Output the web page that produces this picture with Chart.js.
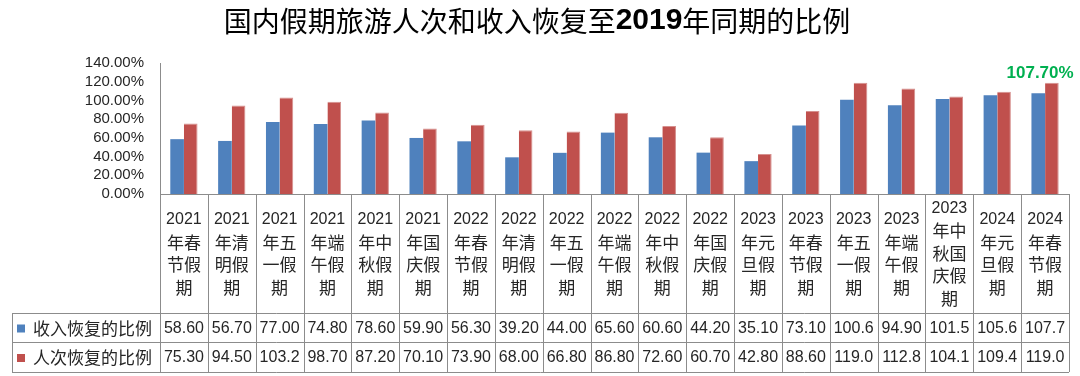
<!DOCTYPE html>
<html>
<head>
<meta charset="utf-8">
<script src="https://cdn.jsdelivr.net/npm/chart.js@4"></script>
<style>
  html, body { margin: 0; padding: 0; background: #fff; }
  #wrap { width: 1080px; height: 376px; position: relative; }
</style>
</head>
<body>
<div id="wrap"><canvas id="holidayChart"></canvas></div>
<script>
// Holiday names (header row of the data table)
const categories = [
    '2021年春节假期', '2021年清明假期', '2021年五一假期', '2021年端午假期', '2021年中秋假期',
    '2021年国庆假期', '2022年春节假期', '2022年清明假期', '2022年五一假期', '2022年端午假期',
    '2022年中秋假期', '2022年国庆假期', '2023年元旦假期', '2023年春节假期', '2023年五一假期',
    '2023年端午假期', '2023年中秋国庆假期', '2024年元旦假期', '2024年春节假期'
];
const seriesNames = ['收入恢复的比例', '人次恢复的比例'];
const revenueRatio = [58.6, 56.7, 77.0, 74.8, 78.6, 59.9, 56.3, 39.2, 44.0, 65.6, 60.6, 44.2, 35.1, 73.1, 100.6, 94.9, 101.5, 105.6, 107.7];
const tripsRatio = [75.3, 94.5, 103.2, 98.7, 87.2, 70.1, 73.9, 68.0, 66.8, 86.8, 72.6, 60.7, 42.8, 88.6, 119.0, 112.8, 104.1, 109.4, 119.0];
const yTicks = [0, 20, 40, 60, 80, 100, 120, 140];
const calloutText = '107.70%';

const BLUE = '#4F81BD';
const RED = '#C0504D';
const LINE = '#8C8C8C';
const TEXT = '#262626';
const CJK = '"Noto Sans CJK SC", sans-serif';
const LATIN = '"Liberation Sans", "Noto Sans CJK SC", sans-serif';

// Excel-like number format in the table cells
function cellText(v) {
    return v >= 100 ? v.toFixed(1) : v.toFixed(2);
}

// Split a holiday name into the wrapped lines of its header cell
function wrapName(name) {
    const lines = [name.slice(0, 4)];
    for (let i = 4; i < name.length; i += 2) lines.push(name.slice(i, i + 2));
    return lines;
}

// Title with bold year
const titlePlugin = {
    id: 'mixedTitle',
    afterDraw(chart) {
        const ctx = chart.ctx;
        const parts = [
            { t: '国内假期旅游人次和收入恢复至', f: `28px ${CJK}` },
            { t: '2019', f: `bold 30px ${LATIN}` },
            { t: '年同期的比例', f: `28px ${CJK}` }
        ];
        ctx.save();
        ctx.fillStyle = '#000';
        ctx.textBaseline = 'middle';
        let total = 0;
        parts.forEach(p => { ctx.font = p.f; p.w = ctx.measureText(p.t).width; total += p.w; });
        let x = 537 - total / 2;
        parts.forEach(p => {
            ctx.font = p.f;
            ctx.textAlign = 'left';
            ctx.fillText(p.t, x, 21);
            x += p.w;
        });
        ctx.restore();
    }
};

// Data table under the plot, aligned to the category scale
const tablePlugin = {
    id: 'dataTable',
    afterDraw(chart) {
        const ctx = chart.ctx;
        const xs = chart.scales.x;
        const n = categories.length;
        const left = xs.left, right = xs.right;
        const w = (right - left) / n;
        const top = chart.chartArea.bottom;
        const headBottom = 313, row1Bottom = 342, row2Bottom = 372;
        const legendLeft = 12;

        ctx.save();
        ctx.strokeStyle = LINE;
        ctx.lineWidth = 1;
        ctx.beginPath();
        for (let i = 0; i <= n; i++) {
            const x = Math.round(left + i * w) + 0.5;
            ctx.moveTo(x, top);
            ctx.lineTo(x, row2Bottom);
        }
        [headBottom, row1Bottom, row2Bottom].forEach(y => {
            ctx.moveTo(legendLeft, y + 0.5);
            ctx.lineTo(right, y + 0.5);
        });
        ctx.moveTo(legendLeft + 0.5, headBottom);
        ctx.lineTo(legendLeft + 0.5, row2Bottom);
        ctx.stroke();

        ctx.fillStyle = TEXT;
        ctx.textAlign = 'center';
        ctx.textBaseline = 'middle';

        // header cells
        categories.forEach((name, i) => {
            const cx = xs.getPixelForValue(i);
            const lines = wrapName(name);
            const lh = 22.5;
            const y0 = (top + headBottom) / 2 - (lines.length - 1) * lh / 2;
            lines.forEach((ln, j) => {
                ctx.font = j === 0 ? `16px ${LATIN}` : `17px ${CJK}`;
                ctx.fillText(ln, cx, y0 + j * lh);
            });
        });

        // value rows
        const rows = [
            { vals: revenueRatio, color: BLUE, y0: headBottom, y1: row1Bottom },
            { vals: tripsRatio, color: RED, y0: row1Bottom, y1: row2Bottom }
        ];
        rows.forEach((r, k) => {
            const cy = (r.y0 + r.y1) / 2 + 1;
            ctx.font = `16px ${LATIN}`;
            ctx.textAlign = 'center';
            ctx.fillStyle = TEXT;
            r.vals.forEach((v, i) => ctx.fillText(cellText(v), xs.getPixelForValue(i), cy));
            ctx.fillStyle = r.color;
            ctx.fillRect(17, cy - 4, 8, 8);
            ctx.fillStyle = TEXT;
            ctx.font = `17px ${CJK}`;
            ctx.textAlign = 'left';
            ctx.fillText(seriesNames[k], 33, cy);
        });
        ctx.restore();
    }
};

// Green callout over the last red bar
const calloutPlugin = {
    id: 'callout',
    afterDatasetsDraw(chart) {
        const ctx = chart.ctx;
        const meta = chart.getDatasetMeta(1);
        const bar = meta.data[meta.data.length - 1];
        ctx.save();
        ctx.font = `bold 17px ${LATIN}`;
        ctx.fillStyle = '#00B050';
        ctx.textAlign = 'center';
        ctx.textBaseline = 'bottom';
        ctx.fillText(calloutText, chart.scales.x.getPixelForValue(categories.length - 1) - 5, bar.y - 1);
        ctx.restore();
    }
};

new Chart(document.getElementById('holidayChart'), {
    type: 'bar',
    data: {
        labels: categories,
        datasets: [
            { label: seriesNames[0], data: revenueRatio, backgroundColor: BLUE },
            { label: seriesNames[1], data: tripsRatio, backgroundColor: RED, borderColor: '#D6908E', borderWidth: { top: 1, right: 1 } }
        ]
    },
    options: {
        responsive: true,
        maintainAspectRatio: false,
        animation: false,
        devicePixelRatio: 1,
        layout: { padding: { left: 0, right: 11, top: 63, bottom: 182 } },
        datasets: { bar: { categoryPercentage: 0.57, barPercentage: 1 } },
        plugins: {
            legend: { display: false },
            title: { display: false },
            tooltip: { enabled: false }
        },
        scales: {
            x: {
                ticks: { display: false },
                grid: { display: false, drawTicks: false },
                border: { display: true, color: LINE },
                afterFit(scale) { scale.height = 0; }
            },
            y: {
                min: 0,
                max: 140,
                afterBuildTicks(scale) { scale.ticks = yTicks.map(v => ({ value: v })); },
                afterFit(scale) { scale.width = 160; },
                grid: { display: false, drawTicks: false },
                border: { display: true, color: LINE },
                ticks: {
                    autoSkip: false,
                    padding: 16,
                    color: TEXT,
                    font: { family: '"Liberation Sans", sans-serif', size: 15 },
                    callback: v => v.toFixed(2) + '%'
                }
            }
        }
    },
    plugins: [titlePlugin, tablePlugin, calloutPlugin]
});
</script>
</body>
</html>
